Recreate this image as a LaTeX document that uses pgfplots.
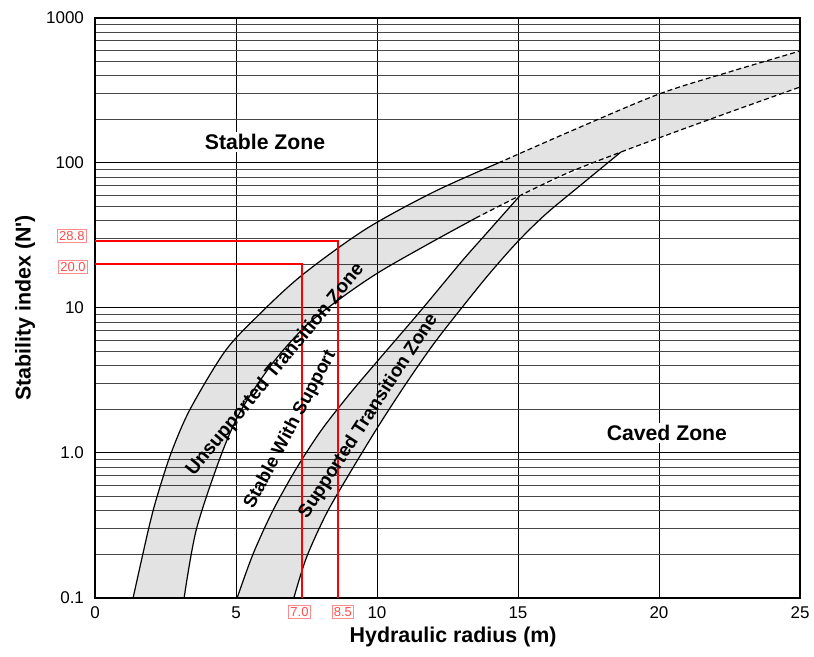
\documentclass[border=0pt]{standalone}
\usepackage{fontspec}
\setmainfont{Liberation Sans}
\usepackage{pgfplots}
\pgfplotsset{compat=1.18}
\usepgfplotslibrary{fillbetween}
\begin{document}
\begin{tikzpicture}
\begin{axis}[
  scale only axis, width=352.5pt, height=290pt,
  xmin=0, xmax=25, ymin=0.1, ymax=1000, ymode=log, log basis y=10,
  xtick={0,5,10,15,20,25},
  ytick={0.1,1,10,100,1000},
  yticklabels={0.1,1.0,10,100,1000},
  minor ytick={0.2,0.3,0.4,0.5,0.6,0.7,0.8,0.9,2,3,4,5,6,7,8,9,20,30,40,50,60,70,80,90,200,300,400,500,600,700,800,900},
  grid=both,
  major grid style={black, line width=0.5pt},
  minor grid style={black!72, line width=0.5pt},
  major tick length=0pt, minor tick length=0pt,
  axis line style={line width=0.9pt},
  tick label style={font=\fontsize{8.5}{10}\selectfont},
  /pgf/number format/assume math mode=true,
  yticklabel style={xshift=-2pt},
  xticklabel style={yshift=-1pt},
  xlabel={Hydraulic radius (m)},
  ylabel={Stability index (N\textquotesingle)},
  label style={font=\bfseries\fontsize{10.7}{12}\selectfont},
  xlabel style={at={(axis description cs:0.508,-0.067)}, anchor=center},
  ylabel style={at={(axis description cs:-0.0993,0.5)}, anchor=center},
  clip=false,
]
% full boundaries for filling
\addplot[name path=Afull, draw=none, smooth] coordinates {(1.35,0.1) (1.9,0.3) (2.2,0.5) (2.7,1) (3.37,2) (4.6,5) (5.74,8.7) (7.3,16.6) (9.57,34.7) (12,63) (14.3,100) (17,170) (20,299) (22.5,425) (25,592)};
\addplot[name path=Bfull, draw=none, smooth] coordinates {(3.16,0.1) (3.6,0.3) (4.5,1) (5.2,2) (6.3,4.17) (7.5,7.6) (8.8,12) (10.1,17.8) (11.8,27.5) (13.5,41.7) (15.1,60) (16.8,86) (18.65,119) (20,149) (22.5,224) (25,334)};
\addplot[name path=C, draw=none, smooth] coordinates {(5.04,0.1) (5.6,0.2) (6.3,0.398) (7.1,0.759) (8.0,1.413) (9.0,2.512) (10.0,4.266) (11.5,9.33) (13.0,20.9) (14.0,34.7) (15.05,59)};
\addplot[name path=D, draw=none, smooth] coordinates {(7.05,0.1) (7.5,0.1905) (8.2,0.38) (9.0,0.708) (10.0,1.479) (11.0,2.951) (12.0,5.623) (13.0,10) (14.0,17.38) (15.0,28.84) (16.0,44.67) (17.3,72.4) (18.65,119)};
\addplot[fill=black, fill opacity=0.11, draw=none] fill between[of=Afull and Bfull];
\addplot[fill=black, fill opacity=0.11, draw=none] fill between[of=C and D];
% drawn boundaries
\addplot[black, line width=0.6pt, smooth] coordinates {(1.35,0.1) (1.9,0.3) (2.2,0.5) (2.7,1) (3.37,2) (4.6,5) (5.74,8.7) (7.3,16.6) (9.57,34.7) (12,63) (14.3,100)};
\addplot[black, line width=0.6pt, smooth, dash pattern=on 2.5pt off 1.5pt] coordinates {(14.3,100) (17,170) (20,299) (22.5,425) (25,592)};
\addplot[black, line width=0.6pt, smooth] coordinates {(3.16,0.1) (3.6,0.3) (4.5,1) (5.2,2) (6.3,4.17) (7.5,7.6) (8.8,12) (10.1,17.8) (11.8,27.5) (13.5,41.7)};
\addplot[black, line width=0.6pt, smooth, dash pattern=on 2.5pt off 1.5pt] coordinates {(13.5,41.7) (15.1,60) (16.8,86) (18.65,119) (20,149) (22.5,224) (25,334)};
\addplot[black, line width=0.6pt, smooth] coordinates {(5.04,0.1) (5.6,0.2) (6.3,0.398) (7.1,0.759) (8.0,1.413) (9.0,2.512) (10.0,4.266) (11.5,9.33) (13.0,20.9) (14.0,34.7) (15.05,59)};
\addplot[black, line width=0.6pt, smooth] coordinates {(7.05,0.1) (7.5,0.1905) (8.2,0.38) (9.0,0.708) (10.0,1.479) (11.0,2.951) (12.0,5.623) (13.0,10) (14.0,17.38) (15.0,28.84) (16.0,44.67) (17.3,72.4) (18.65,119)};
% red reading lines
\addplot[red, line width=1pt] coordinates {(0,28.8) (8.6,28.8) (8.6,0.1)};
\addplot[red, line width=1pt] coordinates {(0,20) (7.35,20) (7.35,0.1)};
\node[text=red!70, draw=red!45, line width=0.4pt, inner sep=0.9pt, font=\fontsize{6.5}{7}\selectfont] at (axis cs:-0.82,31.4) {28.8};
\node[text=red!70, draw=red!45, line width=0.4pt, inner sep=0.9pt, font=\fontsize{6.5}{7}\selectfont] at (axis cs:-0.78,19.2) {20.0};
\node[text=red!70, draw=red!45, line width=0.4pt, inner sep=0.9pt, font=\fontsize{6.5}{7}\selectfont] at (axis cs:7.25,0.080) {7.0};
\node[text=red!70, draw=red!45, line width=0.4pt, inner sep=0.9pt, font=\fontsize{6.5}{7}\selectfont] at (axis cs:8.79,0.080) {8.5};
% zone labels
\node[fill=white, inner sep=1pt, font=\bfseries\fontsize{10.6}{12}\selectfont] at (axis cs:6.03,140) {Stable Zone};
\node[fill=white, inner sep=1pt, font=\bfseries\fontsize{10.6}{12}\selectfont] at (axis cs:20.28,1.37) {Caved Zone};
\node[rotate=50.5, inner sep=0pt, font=\bfseries\fontsize{9.6}{11}\selectfont] at (axis cs:6.40,3.75) {Unsupported Transition Zone};
\node[rotate=62, inner sep=0pt, font=\bfseries\fontsize{9.2}{11}\selectfont] at (axis cs:6.93,1.45) {Stable With Support};
\node[rotate=57, inner sep=0pt, font=\bfseries\fontsize{9.4}{11}\selectfont] at (axis cs:9.70,1.79) {Supported Transition Zone};
\end{axis}
\pgfresetboundingbox
\useasboundingbox (-47.5pt,-29.5pt) rectangle (359.5pt,299pt);
\end{tikzpicture}
\end{document}
